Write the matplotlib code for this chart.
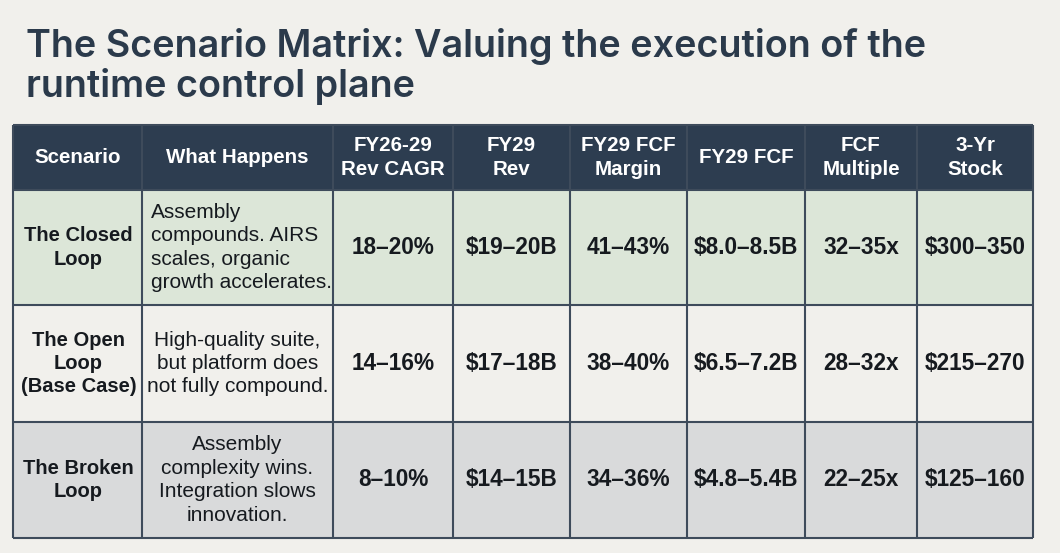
import matplotlib.pyplot as plt
from matplotlib.patches import Rectangle

# Contenu du tableau
title_lines = ["The Scenario Matrix: Valuing the execution of the",
               "runtime control plane"]
headers = ["Scenario", "What Happens", "FY26-29\nRev CAGR", "FY29\nRev",
           "FY29 FCF\nMargin", "FY29 FCF", "FCF\nMultiple", "3-Yr\nStock"]
scenarios = ["The Closed\nLoop", "The Open\nLoop\n(Base Case)", "The Broken\nLoop"]
what_happens = ["Assembly\ncompounds. AIRS\nscales, organic\ngrowth accelerates.",
                "High-quality suite,\nbut platform does\nnot fully compound.",
                "Assembly\ncomplexity wins.\nIntegration slows\ninnovation."]
rev_cagr = ["18\u201320%", "14\u201316%", "8\u201310%"]
fy29_rev = ["$19\u201320B", "$17\u201318B", "$14\u201315B"]
fcf_margin = ["41\u201343%", "38\u201340%", "34\u201336%"]
fy29_fcf = ["$8.0\u20138.5B", "$6.5\u20137.2B", "$4.8\u20135.4B"]
fcf_multiple = ["32\u201335x", "28\u201332x", "22\u201325x"]
stock_3yr = ["$300\u2013350", "$215\u2013270", "$125\u2013160"]

# Mise en page (pixels)
W, H = 1060, 553
col_x = [13, 142, 333, 453, 570, 687, 805, 917, 1033]
row_y = [125, 190, 305, 422, 538]
bg = "#f1f0ec"
navy = "#2d3d50"
row_colors = ["#dce6d8", "#f1f0ec", "#d9dadb"]
line_col = "#3e4b5b"
txt = "#161a1f"

plt.rcParams['font.family'] = ['Liberation Sans', 'DejaVu Sans']

fig = plt.figure(figsize=(W / 100, H / 100), dpi=100, facecolor=bg)
ax = fig.add_axes([0, 0, 1, 1])
ax.set_xlim(0, W)
ax.set_ylim(H, 0)
ax.axis("off")

# Titre
for i, t in enumerate(title_lines):
    ax.text(26, 57 + i * 40, t, fontsize=27.2, color="#2b3a4b", fontweight="semibold",
            family=["Inter", "Liberation Sans"], va="baseline", ha="left")

# En-tête
ax.add_patch(Rectangle((col_x[0], row_y[0]), col_x[-1] - col_x[0], row_y[1] - row_y[0],
                       facecolor=navy, edgecolor="none"))
for j, h in enumerate(headers):
    cx = (col_x[j] + col_x[j + 1]) / 2
    cy = (row_y[0] + row_y[1]) / 2
    ax.text(cx, cy, h, ha="center", va="center", color="white", fontsize=14.8,
            fontweight="bold", linespacing=1.3)

# Lignes
columns = [scenarios, what_happens, rev_cagr, fy29_rev, fcf_margin, fy29_fcf,
           fcf_multiple, stock_3yr]
for i in range(3):
    y0, y1 = row_y[i + 1], row_y[i + 2]
    ax.add_patch(Rectangle((col_x[0], y0), col_x[-1] - col_x[0], y1 - y0,
                           facecolor=row_colors[i], edgecolor="none"))
    cy = (y0 + y1) / 2
    for j, col in enumerate(columns):
        val = col[i]
        cx = (col_x[j] + col_x[j + 1]) / 2
        if j == 0:
            ax.text(cx + 1, cy, val, ha="center", va="center", color=txt,
                    fontsize=14.5, fontweight="bold", linespacing=1.3)
        elif j == 1:
            if i == 0:
                ax.text(col_x[j] + 9, cy, val, ha="left", va="center", color=txt,
                        fontsize=15, linespacing=1.3)
            else:
                ax.text(cx, cy, val, ha="center", va="center", color=txt,
                        fontsize=15, linespacing=1.3)
        else:
            ax.text(cx, cy, val, ha="center", va="center", color=txt,
                    fontsize=16.3, fontweight="bold")

# Bordures
for x in col_x:
    ax.plot([x, x], [row_y[0], row_y[-1]], color=line_col, lw=1.5,
            solid_capstyle="butt")
for y in row_y:
    ax.plot([col_x[0], col_x[-1]], [y, y], color=line_col, lw=1.5,
            solid_capstyle="butt")

fig.savefig("out.png", dpi=100, facecolor=bg)
